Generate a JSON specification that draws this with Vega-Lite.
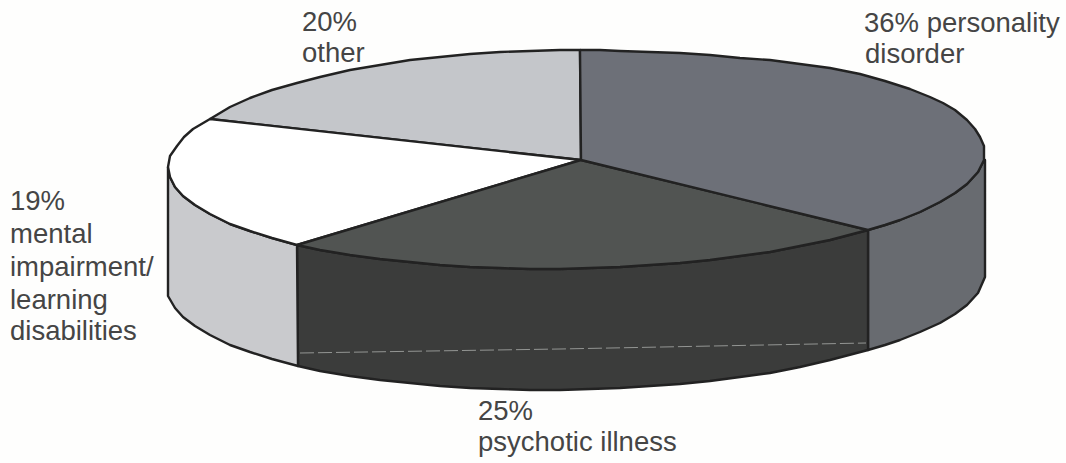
{
  "$schema": "https://vega.github.io/schema/vega-lite/v6.json",
  "width": 1066,
  "height": 463,
  "padding": 0,
  "autosize": {"type": "none"},
  "background": "#fefefd",
  "view": {"stroke": null},
  "datasets": {
    "outlines": [
      {"piece":"personality rim","i":1,"x":984,"y":160},{"piece":"personality rim","i":2,"x":978,"y":172},{"piece":"personality rim","i":3,"x":967,"y":184},{"piece":"personality rim","i":4,"x":955,"y":193},{"piece":"personality rim","i":5,"x":940,"y":202},{"piece":"personality rim","i":6,"x":920,"y":212},{"piece":"personality rim","i":7,"x":900,"y":220},{"piece":"personality rim","i":8,"x":885,"y":225},{"piece":"personality rim","i":9,"x":868,"y":230},{"piece":"personality rim","i":10,"x":868,"y":350},{"piece":"personality rim","i":11,"x":885,"y":345},{"piece":"personality rim","i":12,"x":900,"y":340},{"piece":"personality rim","i":13,"x":920,"y":332},{"piece":"personality rim","i":14,"x":940,"y":323},{"piece":"personality rim","i":15,"x":955,"y":314},{"piece":"personality rim","i":16,"x":967,"y":305},{"piece":"personality rim","i":17,"x":978,"y":293},{"piece":"personality rim","i":18,"x":985,"y":277},{"piece":"personality rim","i":19,"x":985,"y":160},{"piece":"personality rim","i":20,"x":984,"y":160},

      {"piece":"psychotic rim","i":1,"x":297,"y":245},{"piece":"psychotic rim","i":2,"x":320,"y":250},{"piece":"psychotic rim","i":3,"x":350,"y":255},{"piece":"psychotic rim","i":4,"x":380,"y":259},{"piece":"psychotic rim","i":5,"x":410,"y":262},{"piece":"psychotic rim","i":6,"x":440,"y":265},{"piece":"psychotic rim","i":7,"x":470,"y":267},{"piece":"psychotic rim","i":8,"x":500,"y":268},{"piece":"psychotic rim","i":9,"x":530,"y":269},{"piece":"psychotic rim","i":10,"x":560,"y":269},{"piece":"psychotic rim","i":11,"x":590,"y":268},{"piece":"psychotic rim","i":12,"x":620,"y":267},{"piece":"psychotic rim","i":13,"x":650,"y":265},{"piece":"psychotic rim","i":14,"x":680,"y":263},{"piece":"psychotic rim","i":15,"x":710,"y":260},{"piece":"psychotic rim","i":16,"x":740,"y":256},{"piece":"psychotic rim","i":17,"x":770,"y":252},{"piece":"psychotic rim","i":18,"x":800,"y":246},{"piece":"psychotic rim","i":19,"x":830,"y":240},{"piece":"psychotic rim","i":20,"x":868,"y":230},{"piece":"psychotic rim","i":21,"x":868,"y":350},{"piece":"psychotic rim","i":22,"x":830,"y":360},{"piece":"psychotic rim","i":23,"x":800,"y":367},{"piece":"psychotic rim","i":24,"x":770,"y":373},{"piece":"psychotic rim","i":25,"x":740,"y":377},{"piece":"psychotic rim","i":26,"x":710,"y":381},{"piece":"psychotic rim","i":27,"x":680,"y":384},{"piece":"psychotic rim","i":28,"x":650,"y":386},{"piece":"psychotic rim","i":29,"x":620,"y":388},{"piece":"psychotic rim","i":30,"x":590,"y":389},{"piece":"psychotic rim","i":31,"x":560,"y":390},{"piece":"psychotic rim","i":32,"x":530,"y":390},{"piece":"psychotic rim","i":33,"x":500,"y":389},{"piece":"psychotic rim","i":34,"x":470,"y":388},{"piece":"psychotic rim","i":35,"x":440,"y":386},{"piece":"psychotic rim","i":36,"x":410,"y":383},{"piece":"psychotic rim","i":37,"x":380,"y":380},{"piece":"psychotic rim","i":38,"x":350,"y":376},{"piece":"psychotic rim","i":39,"x":320,"y":371},{"piece":"psychotic rim","i":40,"x":298,"y":366},{"piece":"psychotic rim","i":41,"x":297,"y":245},

      {"piece":"impairment rim","i":1,"x":168,"y":167},{"piece":"impairment rim","i":2,"x":170,"y":177},{"piece":"impairment rim","i":3,"x":175,"y":187},{"piece":"impairment rim","i":4,"x":183,"y":196},{"piece":"impairment rim","i":5,"x":195,"y":205},{"piece":"impairment rim","i":6,"x":210,"y":214},{"piece":"impairment rim","i":7,"x":230,"y":224},{"piece":"impairment rim","i":8,"x":250,"y":231},{"piece":"impairment rim","i":9,"x":272,"y":238},{"piece":"impairment rim","i":10,"x":297,"y":245},{"piece":"impairment rim","i":11,"x":298,"y":366},{"piece":"impairment rim","i":12,"x":272,"y":359},{"piece":"impairment rim","i":13,"x":250,"y":352},{"piece":"impairment rim","i":14,"x":230,"y":345},{"piece":"impairment rim","i":15,"x":210,"y":335},{"piece":"impairment rim","i":16,"x":195,"y":326},{"piece":"impairment rim","i":17,"x":183,"y":317},{"piece":"impairment rim","i":18,"x":175,"y":308},{"piece":"impairment rim","i":19,"x":168,"y":296},{"piece":"impairment rim","i":20,"x":168,"y":167},

      {"piece":"other top","i":1,"x":210,"y":119},{"piece":"other top","i":2,"x":230,"y":107},{"piece":"other top","i":3,"x":250,"y":98},{"piece":"other top","i":4,"x":272,"y":90},{"piece":"other top","i":5,"x":297,"y":83},{"piece":"other top","i":6,"x":320,"y":77},{"piece":"other top","i":7,"x":350,"y":70},{"piece":"other top","i":8,"x":380,"y":65},{"piece":"other top","i":9,"x":410,"y":60},{"piece":"other top","i":10,"x":440,"y":57},{"piece":"other top","i":11,"x":470,"y":54},{"piece":"other top","i":12,"x":500,"y":52},{"piece":"other top","i":13,"x":530,"y":51},{"piece":"other top","i":14,"x":560,"y":50},{"piece":"other top","i":15,"x":580,"y":50},{"piece":"other top","i":16,"x":581,"y":160},{"piece":"other top","i":17,"x":210,"y":119},

      {"piece":"impairment top","i":1,"x":581,"y":160},{"piece":"impairment top","i":2,"x":297,"y":245},{"piece":"impairment top","i":3,"x":272,"y":238},{"piece":"impairment top","i":4,"x":250,"y":231},{"piece":"impairment top","i":5,"x":230,"y":224},{"piece":"impairment top","i":6,"x":210,"y":214},{"piece":"impairment top","i":7,"x":195,"y":205},{"piece":"impairment top","i":8,"x":183,"y":196},{"piece":"impairment top","i":9,"x":175,"y":187},{"piece":"impairment top","i":10,"x":170,"y":177},{"piece":"impairment top","i":11,"x":168,"y":167},{"piece":"impairment top","i":12,"x":170,"y":156},{"piece":"impairment top","i":13,"x":177,"y":146},{"piece":"impairment top","i":14,"x":184,"y":137},{"piece":"impairment top","i":15,"x":193,"y":129},{"piece":"impairment top","i":16,"x":210,"y":119},{"piece":"impairment top","i":17,"x":581,"y":160},

      {"piece":"psychotic top","i":1,"x":581,"y":160},{"piece":"psychotic top","i":2,"x":868,"y":230},{"piece":"psychotic top","i":3,"x":830,"y":240},{"piece":"psychotic top","i":4,"x":800,"y":246},{"piece":"psychotic top","i":5,"x":770,"y":252},{"piece":"psychotic top","i":6,"x":740,"y":256},{"piece":"psychotic top","i":7,"x":710,"y":260},{"piece":"psychotic top","i":8,"x":680,"y":263},{"piece":"psychotic top","i":9,"x":650,"y":265},{"piece":"psychotic top","i":10,"x":620,"y":267},{"piece":"psychotic top","i":11,"x":590,"y":268},{"piece":"psychotic top","i":12,"x":560,"y":269},{"piece":"psychotic top","i":13,"x":530,"y":269},{"piece":"psychotic top","i":14,"x":500,"y":268},{"piece":"psychotic top","i":15,"x":470,"y":267},{"piece":"psychotic top","i":16,"x":440,"y":265},{"piece":"psychotic top","i":17,"x":410,"y":262},{"piece":"psychotic top","i":18,"x":380,"y":259},{"piece":"psychotic top","i":19,"x":350,"y":255},{"piece":"psychotic top","i":20,"x":320,"y":250},{"piece":"psychotic top","i":21,"x":297,"y":245},{"piece":"psychotic top","i":22,"x":581,"y":160},

      {"piece":"personality top","i":1,"x":580,"y":50},{"piece":"personality top","i":2,"x":600,"y":50},{"piece":"personality top","i":3,"x":620,"y":51},{"piece":"personality top","i":4,"x":650,"y":52},{"piece":"personality top","i":5,"x":680,"y":53},{"piece":"personality top","i":6,"x":710,"y":55},{"piece":"personality top","i":7,"x":740,"y":58},{"piece":"personality top","i":8,"x":770,"y":60},{"piece":"personality top","i":9,"x":800,"y":64},{"piece":"personality top","i":10,"x":830,"y":68},{"piece":"personality top","i":11,"x":860,"y":74},{"piece":"personality top","i":12,"x":885,"y":81},{"piece":"personality top","i":13,"x":910,"y":89},{"piece":"personality top","i":14,"x":930,"y":97},{"piece":"personality top","i":15,"x":943,"y":103},{"piece":"personality top","i":16,"x":955,"y":110},{"piece":"personality top","i":17,"x":967,"y":120},{"piece":"personality top","i":18,"x":975,"y":129},{"piece":"personality top","i":19,"x":980,"y":137},{"piece":"personality top","i":20,"x":984,"y":146},{"piece":"personality top","i":21,"x":984,"y":160},{"piece":"personality top","i":22,"x":978,"y":172},{"piece":"personality top","i":23,"x":967,"y":184},{"piece":"personality top","i":24,"x":955,"y":193},{"piece":"personality top","i":25,"x":940,"y":202},{"piece":"personality top","i":26,"x":920,"y":212},{"piece":"personality top","i":27,"x":900,"y":220},{"piece":"personality top","i":28,"x":885,"y":225},{"piece":"personality top","i":29,"x":868,"y":230},{"piece":"personality top","i":30,"x":581,"y":160},{"piece":"personality top","i":31,"x":580,"y":50}
    ],
    "scratch": [
      {"x":300,"y":353},{"x":560,"y":349},{"x":866,"y":343}
    ],
    "labels": [
      {"line":"20%","x":302,"y":31},
      {"line":"other","x":302,"y":62},
      {"line":"36% personality","x":864,"y":32},
      {"line":"disorder","x":865,"y":63},
      {"line":"19%","x":10,"y":210},
      {"line":"mental","x":10,"y":243},
      {"line":"impairment/","x":10,"y":276},
      {"line":"learning","x":10,"y":309},
      {"line":"disabilities","x":10,"y":340},
      {"line":"25%","x":478,"y":420},
      {"line":"psychotic illness","x":478,"y":451}
    ]
  },
  "layer": [
    {
      "data": {"name": "outlines"},
      "mark": {"type": "line", "stroke": "#222222", "strokeWidth": 2.4, "strokeJoin": "round", "clip": false},
      "encoding": {
        "x": {"field": "x", "type": "quantitative", "scale": {"domain": [0, 1066]}, "axis": null},
        "y": {"field": "y", "type": "quantitative", "scale": {"domain": [463, 0]}, "axis": null},
        "order": {"field": "i", "type": "quantitative"},
        "detail": {"field": "piece"},
        "fill": {
          "field": "piece",
          "type": "nominal",
          "legend": null,
          "scale": {
            "domain": ["personality rim", "psychotic rim", "impairment rim", "other top", "impairment top", "psychotic top", "personality top"],
            "range": ["#686b70", "#3b3c3b", "#c9cacd", "#c4c6ca", "#ffffff", "#515452", "#6d7078"]
          }
        }
      }
    },
    {
      "data": {"name": "scratch"},
      "mark": {"type": "line", "stroke": "#b8bab8", "strokeWidth": 1, "strokeDash": [14, 4], "opacity": 0.7},
      "encoding": {
        "x": {"field": "x", "type": "quantitative", "scale": {"domain": [0, 1066]}, "axis": null},
        "y": {"field": "y", "type": "quantitative", "scale": {"domain": [463, 0]}, "axis": null}
      }
    },
    {
      "data": {"name": "labels"},
      "mark": {"type": "text", "align": "left", "baseline": "alphabetic", "font": "Liberation Sans", "fontSize": 27.5, "fill": "#454545"},
      "encoding": {
        "x": {"field": "x", "type": "quantitative", "scale": {"domain": [0, 1066]}, "axis": null},
        "y": {"field": "y", "type": "quantitative", "scale": {"domain": [463, 0]}, "axis": null},
        "text": {"field": "line"}
      }
    }
  ]
}
